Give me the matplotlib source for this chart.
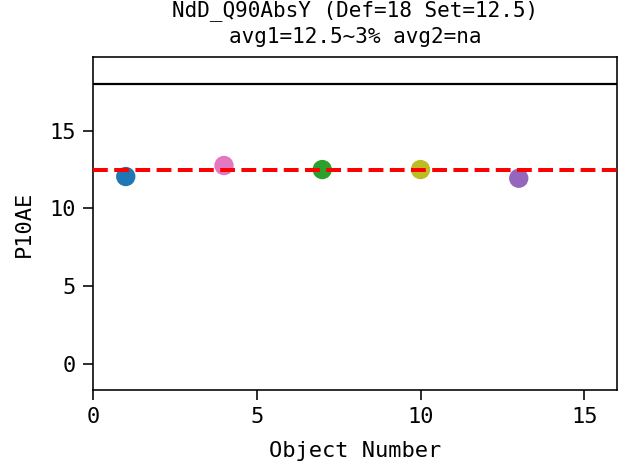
import matplotlib
matplotlib.use("Agg")
import matplotlib.pyplot as plt

# data
obj_numbers = [1, 4, 7, 10, 13]
p10ae_values = [12.05, 12.76, 12.5, 12.5, 11.94]
point_colors = ["tab:blue", "tab:pink", "tab:green", "tab:olive", "tab:purple"]
def_value = 18
set_value = 12.5
title_text = "NdD_Q90AbsY (Def=18 Set=12.5)\navg1=12.5~3% avg2=na"
x_ticks = [0, 5, 10, 15]
y_ticks = [0, 5, 10, 15]

plt.rcParams['font.family'] = ['DejaVu Sans Mono']
plt.rcParams['font.size'] = 11

dpi = 144
fig = plt.figure(figsize=(618 / dpi, 466 / dpi), dpi=dpi)
ax = fig.add_axes([93 / 618, 76 / 466, 524 / 618, 333 / 466])

ax.scatter(obj_numbers, p10ae_values, c=point_colors, s=75, zorder=3)
ax.axhline(set_value, color="red", linestyle="--", linewidth=2, zorder=4)
ax.axhline(def_value, color="black", linewidth=1.1, zorder=2)

ax.set_xlim(0, 16)
ax.set_ylim(-1.7, 19.75)
ax.set_xticks(x_ticks)
ax.set_yticks(y_ticks)
ax.tick_params(length=5)
ax.set_xlabel("Object Number", labelpad=7)
ax.set_ylabel("P10AE", labelpad=8)
ax.set_title(title_text, fontsize=10.5, linespacing=1.4, pad=7)

fig.savefig("out.png", dpi=dpi)
